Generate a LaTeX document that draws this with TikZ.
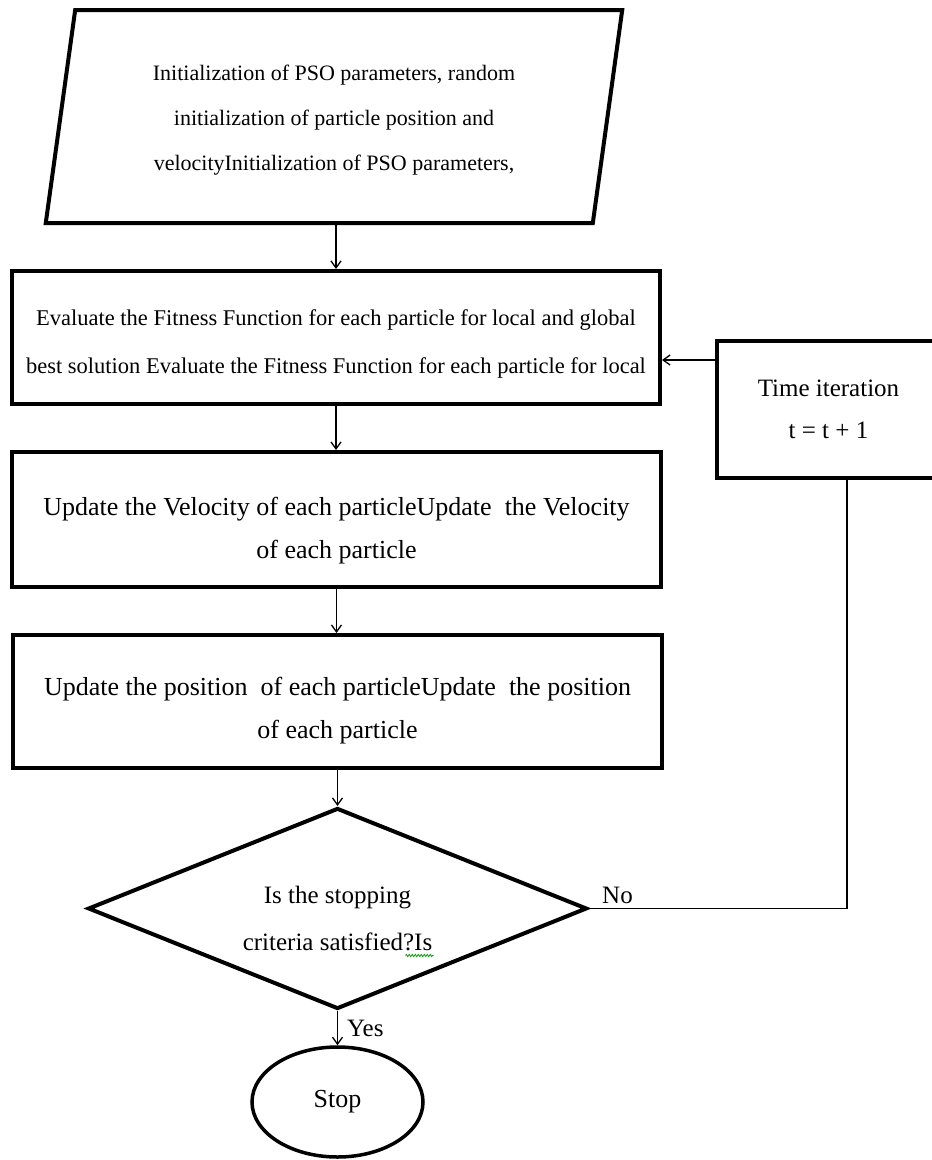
\documentclass[tikz,border=0pt]{standalone}
\usepackage{fontspec}
\setmainfont{Liberation Serif}
\usetikzlibrary{shapes.geometric, arrows.meta, calc, decorations.pathmorphing}

% unsichtbare Stuetze, schiebt den Text nach unten
\newcommand{\lift}[1]{\rule{0pt}{#1}}

\begin{document}
\begin{tikzpicture}[x=1pt, y=-1pt,
  blk/.style={draw, line width=4pt, align=center, inner sep=0pt},
  arr/.style={line width=1.3pt, -{Straight Barb[length=7pt, width=10pt]}},
  lnk/.style={line width=1.3pt},
  lbl/.style={inner sep=0pt, font=\fontsize{25}{30}\selectfont}]
  \useasboundingbox (0,0) rectangle (932,1160);
  \clip (0,0) rectangle (932,1160);

  % Eingabe
  \node[blk, trapezium, trapezium left angle=80, trapezium right angle=100,
        trapezium stretches=true, minimum width=578, minimum height=213,
        font=\fontsize{22}{45}\selectfont] (init) at (334,116.5)
    {\lift{22pt}Initialization of PSO parameters, random\\
     initialization of particle position and\\
     velocityInitialization of PSO parameters,};

  % Schritte
  \node[blk, minimum width=648, minimum height=133,
        font=\fontsize{22.5}{48}\selectfont] (fit) at (336,337.5)
    {\lift{28pt}Evaluate the Fitness Function for each particle for local and global\\
     best solution Evaluate the Fitness Function for each particle for local};
  \node[blk, minimum width=649, minimum height=135,
        font=\fontsize{26}{43}\selectfont] (velo) at (336.5,519.5)
    {\lift{40pt}Update the Velocity of each particleUpdate\ \ the Velocity\\
     of each particle};
  \node[blk, minimum width=649, minimum height=133,
        font=\fontsize{26}{43}\selectfont] (pos) at (337.5,701.5)
    {\lift{37pt}Update the position\ \ of each particleUpdate\ \ the position\\
     of each particle};
  \node[blk, minimum width=223, minimum height=137,
        font=\fontsize{25}{42}\selectfont] (time) at (828.5,409.5)
    {Time iteration\\ t = t + 1};

  % Abfrage
  \node[blk, diamond, aspect=2.48, minimum width=499, minimum height=201,
        font=\fontsize{25}{47}\selectfont] (dec) at (337.5,908.5)
    {\lift{38pt}Is the stopping\\ criteria satisfied?Is};
  \node[blk, ellipse, line width=3.5pt, minimum width=171, minimum height=110,
        font=\fontsize{26}{30}\selectfont] (stop) at (337.5,1102) {Stop};

  \draw[arr] (fit.north |- init.south) -- (fit.north);
  \draw[arr] (fit.south) -- (fit.south |- velo.north);
  \draw[arr] (velo.south) -- (velo.south |- pos.north);
  \draw[arr] (pos.south) -- (dec.north);
  \draw[arr] (dec.south) -- node[lbl, midway, right=9pt] {Yes} (stop.north);

  % Rueckfuehrung
  \coordinate (up) at ([xshift=18.5pt]time.south);
  \coordinate (back) at ([yshift=-21pt]time.north west);
  \draw[lnk] (dec.east) -- (dec.east -| up) -- (up);
  \draw[arr] (back) -- (back -| fit.east);
  \node[lbl, anchor=south west] (no) at ([xshift=13pt, yshift=5pt]dec.east) {No};

  % Wellenlinie der Rechtschreibpruefung
  \draw[green!60!black, line width=0.7pt,
        decorate, decoration={zigzag, amplitude=1.2pt, segment length=3pt}]
    ($(dec.center)+(68,47)$) -- ($(dec.center)+(96,47)$);
\end{tikzpicture}
\end{document}
